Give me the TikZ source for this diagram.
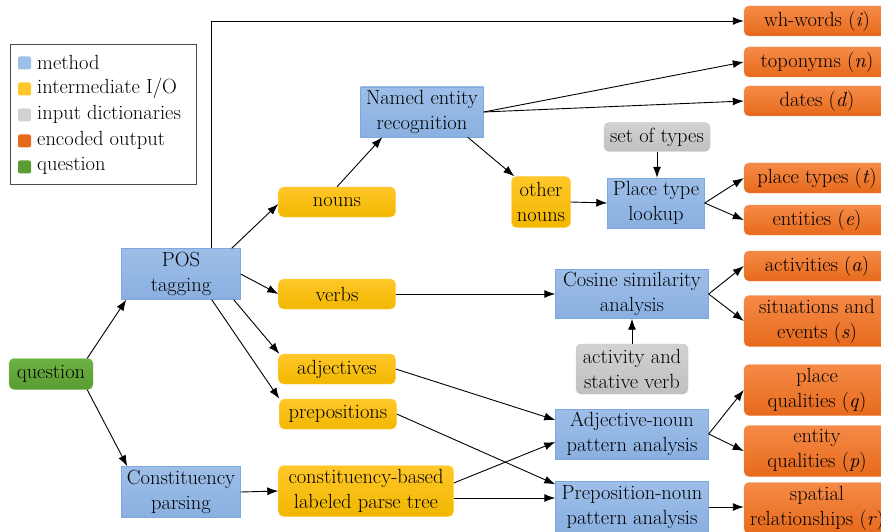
\documentclass[tikz,border=0pt]{standalone}
\usepackage{xcolor}
\usepackage{tikz}
\usetikzlibrary{arrows.meta, positioning, calc}

\definecolor{mblue}{HTML}{9DBEE8}
\definecolor{mblueD}{HTML}{8AB0E0}
\definecolor{mblueB}{HTML}{7FA8DE}
\definecolor{myel}{HTML}{FFC729}
\definecolor{myelD}{HTML}{F2B700}
\definecolor{myelB}{HTML}{FFD04A}
\definecolor{mgray}{HTML}{D2D2D2}
\definecolor{mgrayD}{HTML}{C0C0C0}
\definecolor{mgrayB}{HTML}{C4C4C4}
\definecolor{morg}{HTML}{F58A47}
\definecolor{morgD}{HTML}{E76A1C}
\definecolor{morgB}{HTML}{F29155}
\definecolor{mgrn}{HTML}{6DB043}
\definecolor{mgrnD}{HTML}{5A9C32}

\tikzset{
  box/.style={align=center, inner sep=0pt, font=\fontsize{20.5}{25}\selectfont},
  methodbox/.style={box, draw=mblueB, top color=mblue, bottom color=mblueD},
  iobox/.style={box, draw=myelB, top color=myel, bottom color=myelD, rounded corners=5pt, minimum height=30pt},
  dictbox/.style={box, draw=mgrayB, top color=mgray, bottom color=mgrayD, rounded corners=5pt},
  outbox/.style={box, draw=morgB, top color=morg, bottom color=morgD, rounded corners=5pt, minimum width=146pt},
  questbox/.style={box, draw=mgrn!80, top color=mgrn, bottom color=mgrnD, rounded corners=5pt},
  link/.style={-{Latex[length=11pt,width=8pt]}, line width=0.9pt}
}

\begin{document}
\begin{tikzpicture}[x=1pt,y=-1pt]
  \useasboundingbox (0,0) rectangle (881,532);

  % --- Legend ---
  \draw[black!70, line width=0.8pt] (10,44) rectangle (196,184);
  \foreach \c/\t [count=\i] in {mblue/method, myel/{intermediate I/O}, mgray/input dictionaries, morgD/encoded output, mgrnD/question}{
    \fill[\c, rounded corners=2pt] (18,{37+26*\i-6.5}) rectangle ++(13,13);
    \node[box, anchor=west] (leg\i) at (37,{36+26*\i}) {\t};
  }

  % --- Input and methods ---
  \node[questbox, minimum width=84pt, minimum height=31pt] (question) at (51,374) {question};
  \node[methodbox, minimum width=119pt, minimum height=51pt] (pos) at (181,274) {POS\\tagging};
  \node[methodbox, minimum width=119pt, minimum height=51pt] (const) at (181,492) {Constituency\\parsing};

  % --- Intermediate I/O ---
  \node[iobox, minimum width=117pt] (nouns) at (337,202) {nouns};
  \node[iobox, minimum width=117pt] (verbs) at (337,294) {verbs};
  \node[iobox, minimum width=117pt] (adjs) at (337,369) {adjectives};
  \node[iobox, minimum width=117pt] (preps) at (338,414) {prepositions};
  \node[iobox, minimum width=175pt, minimum height=51pt] (tree) at (366,491) {constituency-based\\labeled parse tree};
  \node[iobox, minimum width=59pt, minimum height=51pt] (other) at (541,202) {other\\nouns};

  % --- Analysis methods ---
  \node[methodbox, minimum width=123pt, minimum height=50pt] (ner) at (422,112) {Named entity\\recognition};
  \node[methodbox, minimum width=97pt, minimum height=50pt] (place) at (656,203) {Place type\\lookup};
  \node[methodbox, minimum width=153pt, minimum height=49pt] (cos) at (632,294) {Cosine similarity\\analysis};
  \node[methodbox, minimum width=153pt, minimum height=50pt] (adjn) at (632,434) {Adjective-noun\\pattern analysis};
  \node[methodbox, minimum width=153pt, minimum height=51pt] (prepn) at (632,507) {Preposition-noun\\pattern analysis};

  % --- Dictionaries ---
  \node[dictbox, minimum width=106pt, minimum height=29pt] (types) at (657,137) {set of types};
  \node[dictbox, minimum width=112pt, minimum height=50pt] (verbdict) at (632,369) {activity and\\stative verb};

  % --- Encoded output ---
  \node[outbox, minimum height=30pt] (wh) at (817,21) {wh-words (\textit{i})};
  \node[outbox, minimum height=30pt] (topo) at (817,62) {toponyms (\textit{n})};
  \node[outbox, minimum height=30pt] (dates) at (817,101) {dates (\textit{d})};
  \node[outbox, minimum height=30pt] (ptypes) at (817,178) {place types (\textit{t})};
  \node[outbox, minimum height=30pt] (ents) at (817,220) {entities (\textit{e})};
  \node[outbox, minimum height=30pt] (acts) at (817,266) {activities (\textit{a})};
  \node[outbox, minimum height=51pt] (sits) at (817,321) {situations and\\events (\textit{s})};
  \node[outbox, minimum height=51pt] (pqual) at (817,390) {place\\qualities (\textit{q})};
  \node[outbox, minimum height=51pt] (equal) at (817,451) {entity\\qualities (\textit{p})};
  \node[outbox, minimum height=51pt] (spat) at (817,508) {spatial\\relationships (\textit{r})};

  % --- Connectors ---
  \draw[link] ([xshift=-6pt]question.north east) -- ([xshift=5pt]pos.south west);
  \draw[link] ([xshift=-6pt]question.south east) -- ([xshift=6pt]const.north west);
  \draw[link] ([xshift=30pt]pos.north) |- (wh.west);
  \draw[link] ([xshift=-9pt]pos.north east) -- ([yshift=-2pt]nouns.west);
  \draw[link] (pos.east) -- (verbs.west);
  \draw[link] ([xshift=-7pt]pos.south east) -- ([xshift=1pt]adjs.north west);
  \draw[link] ([xshift=-29pt]pos.south east) -- (preps.north west);
  \draw[link] (const.east) -- (tree.west);

  \draw[link] (nouns.north) -- ([xshift=22pt]ner.south west);
  \draw[link] (ner.east) -- (topo.west);
  \draw[link] (ner.east) -- (dates.west);
  \draw[link] ([xshift=-16pt]ner.south east) -- ([xshift=3pt]other.north west);
  \draw[link] (other.east) -- (place.west);
  \draw[link] (types.south) -- (types.south |- place.north);
  \draw[link] (place.east) -- (ptypes.west);
  \draw[link] (place.east) -- (ents.west);

  \draw[link] (verbs.east) -- (cos.west);
  \draw[link] (verbdict.north) -- (cos.south);
  \draw[link] (cos.east) -- (acts.west);
  \draw[link] (cos.east) -- (sits.west);

  \draw[link] (adjs.east) -- ([yshift=14pt]adjn.west);
  \draw[link] ([yshift=8pt]tree.east) -- ([yshift=-8pt]adjn.west);
  \draw[link] (adjn.east) -- (pqual.west);
  \draw[link] (adjn.east) -- (equal.west);

  \draw[link] (preps.east) -- ([yshift=-3pt]prepn.north west);
  \draw[link] ([yshift=-7pt]tree.east) -- ([yshift=-7pt]tree.east -| prepn.west);
  \draw[link] (prepn.east) -- (prepn.east -| spat.west);
\end{tikzpicture}
\end{document}
